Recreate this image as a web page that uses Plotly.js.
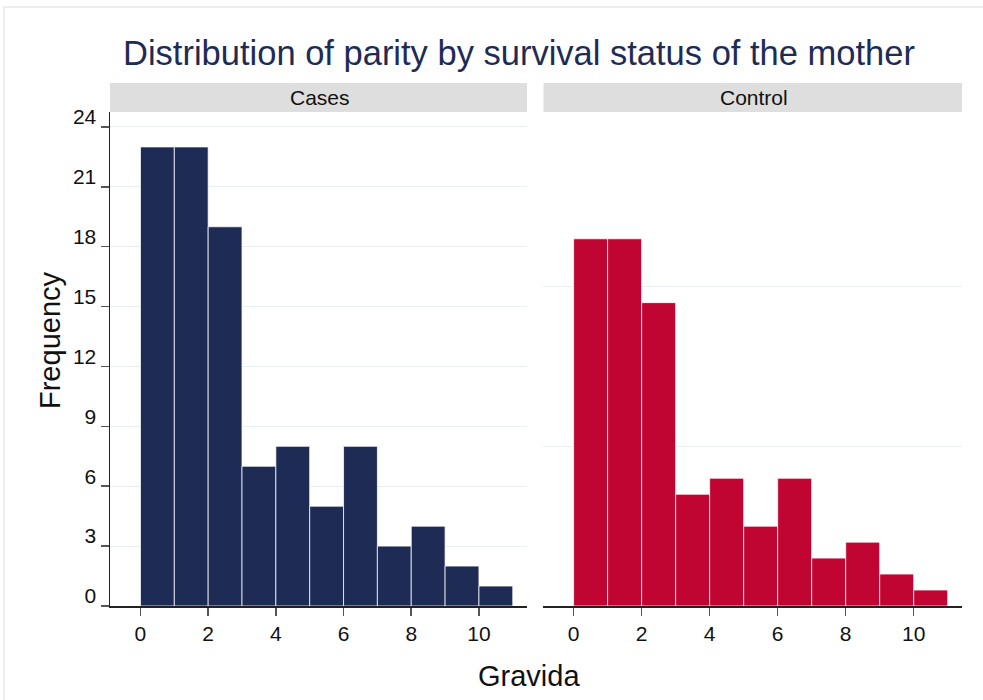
<!DOCTYPE html>
<html>
<head>
<meta charset="utf-8">
<script src="https://cdn.plot.ly/plotly-3.0.1.min.js"></script>
<style>html,body{margin:0;padding:0;background:#fff;}#chart{width:983px;height:700px;}</style>
</head>
<body>
<div id="chart"></div>
<script>
// Data
const binCenters = [0.5, 1.5, 2.5, 3.5, 4.5, 5.5, 6.5, 7.5, 8.5, 9.5, 10.5];
const casesCounts = [23, 23, 19, 7, 8, 5, 8, 3, 4, 2, 1];
const controlCounts = [23, 23, 19, 7, 8, 5, 8, 3, 4, 2, 1];
const xTickVals = [0, 2, 4, 6, 8, 10];
const casesYTicks = [0, 3, 6, 9, 12, 15, 18, 21, 24];
const controlYTicks = [10, 20];
const panelNames = ['Cases', 'Control'];

const W = 983, H = 700;
const px = v => v / W;
const py = v => (H - v) / H;
const FONT = 'Liberation Sans, Arial, Helvetica, sans-serif';

const traces = [
  {
    type: 'bar', x: binCenters, y: casesCounts, width: 1,
    xaxis: 'x', yaxis: 'y',
    marker: {color: '#1e2c55', line: {color: 'rgba(255,255,255,0.75)', width: 1}},
    hoverinfo: 'x+y', showlegend: false
  },
  {
    type: 'bar', x: binCenters, y: controlCounts, width: 1,
    xaxis: 'x2', yaxis: 'y2',
    marker: {color: '#c00533', line: {color: 'rgba(255,255,255,0.75)', width: 1}},
    hoverinfo: 'x+y', showlegend: false
  }
];

const xCommon = {
  range: [-0.9, 11.42], tickvals: xTickVals, ticks: 'outside', ticklen: 8,
  tickcolor: '#555', tickwidth: 1.5, showline: true, linecolor: '#222', linewidth: 1.5,
  showgrid: false, zeroline: false, tickfont: {family: FONT, size: 21, color: '#111'}
};

const layout = {
  width: W, height: H,
  margin: {l: 0, r: 0, t: 0, b: 0},
  paper_bgcolor: '#fff', plot_bgcolor: '#fff',
  bargap: 0,
  font: {family: FONT, color: '#111'},
  xaxis: Object.assign({}, xCommon, {domain: [px(110), px(527)], anchor: 'y'}),
  xaxis2: Object.assign({}, xCommon, {domain: [px(543), px(962)], anchor: 'y2'}),
  yaxis: {
    domain: [py(606), py(112)], range: [0, 24.75], anchor: 'x',
    tickvals: casesYTicks, ticks: 'outside', ticklen: 8, tickcolor: '#555', tickwidth: 1.5,
    showline: true, linecolor: '#222', linewidth: 1.5,
    showgrid: true, gridcolor: '#e9eff1', gridwidth: 1, zeroline: false,
    tickfont: {family: FONT, size: 21, color: '#111'}, ticklabelshift: -10
  },
  yaxis2: {
    domain: [py(606), py(112)], range: [0, 30.94], anchor: 'x2',
    tickvals: controlYTicks, showticklabels: false, ticks: '',
    showline: false, showgrid: true, gridcolor: '#e9eff1', gridwidth: 1, zeroline: false
  },
  shapes: [
    {type: 'rect', xref: 'paper', yref: 'paper', x0: px(4), x1: px(995), y0: py(712), y1: py(7),
     line: {color: '#e3e9eb', width: 1.5}, fillcolor: 'rgba(0,0,0,0)', layer: 'below'},
    {type: 'rect', xref: 'paper', yref: 'paper', x0: px(110), x1: px(527), y0: py(112), y1: py(83),
     line: {width: 0}, fillcolor: '#dedede'},
    {type: 'rect', xref: 'paper', yref: 'paper', x0: px(543.5), x1: px(962), y0: py(112), y1: py(83),
     line: {width: 0}, fillcolor: '#dedede'}
  ],
  annotations: [
    {text: 'Distribution of parity by survival status of the mother', xref: 'paper', yref: 'paper',
     x: px(519), y: py(53), xanchor: 'center', yanchor: 'middle', showarrow: false,
     font: {family: FONT, size: 34.5, color: '#1e2c55'}},
    {text: panelNames[0], xref: 'paper', yref: 'paper', x: px(320), y: py(97.5),
     xanchor: 'center', yanchor: 'middle', showarrow: false, font: {family: FONT, size: 21, color: '#111'}},
    {text: panelNames[1], xref: 'paper', yref: 'paper', x: px(753.5), y: py(97.5),
     xanchor: 'center', yanchor: 'middle', showarrow: false, font: {family: FONT, size: 21, color: '#111'}},
    {text: 'Frequency', xref: 'paper', yref: 'paper', x: px(50), y: py(340), textangle: -90,
     xanchor: 'center', yanchor: 'middle', showarrow: false, font: {family: FONT, size: 29, color: '#111'}},
    {text: 'Gravida', xref: 'paper', yref: 'paper', x: px(529), y: py(676),
     xanchor: 'center', yanchor: 'middle', showarrow: false, font: {family: FONT, size: 29, color: '#111'}}
  ]
};

Plotly.newPlot('chart', traces, layout, {displayModeBar: false, staticPlot: true});
</script>
</body>
</html>
